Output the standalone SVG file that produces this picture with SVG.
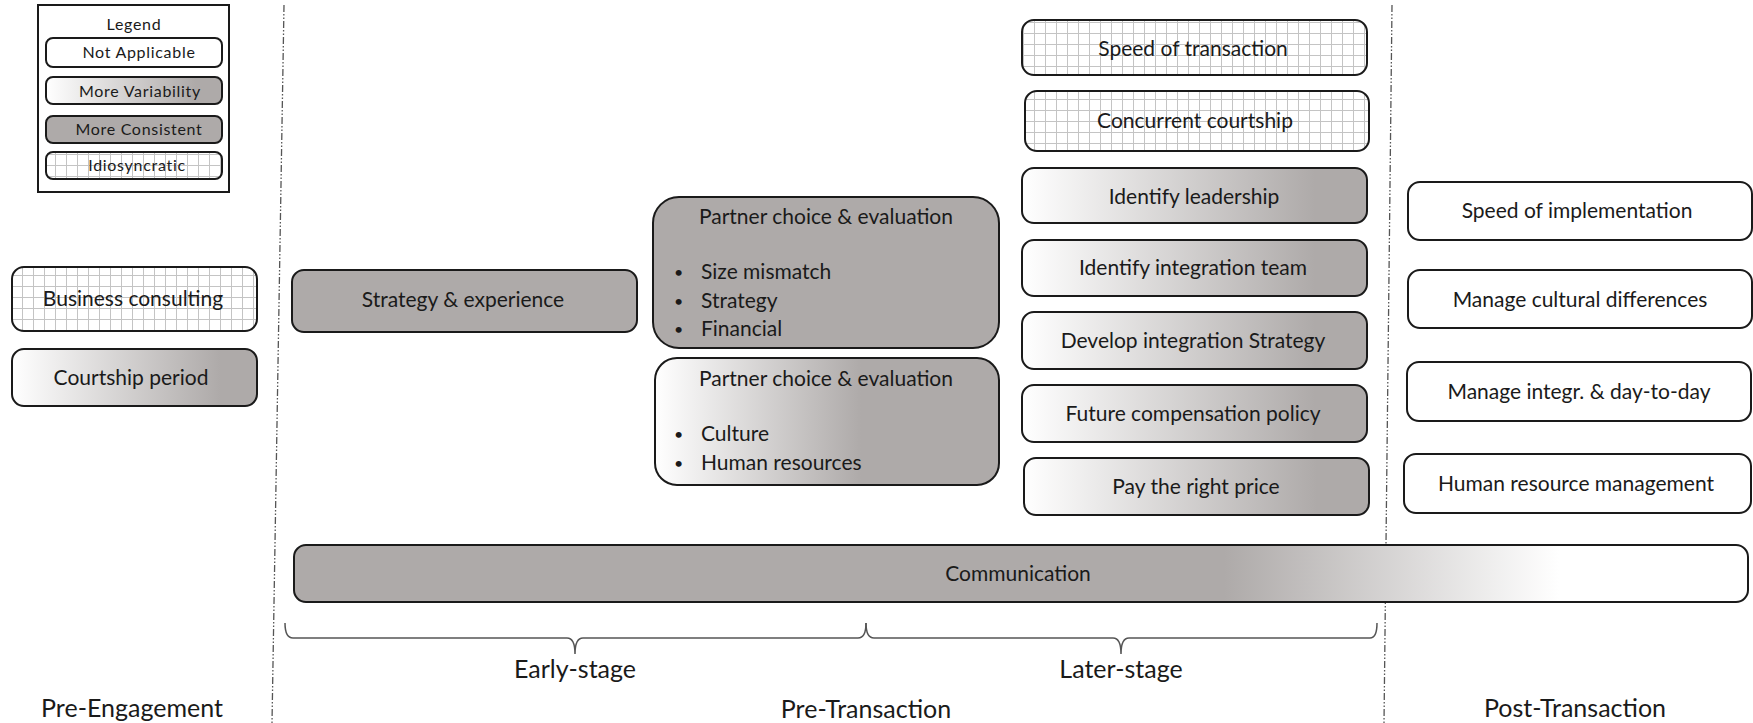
<svg xmlns="http://www.w3.org/2000/svg" width="1753" height="723" viewBox="0 0 1753 723">
  <style>
    text { font-family: Lato, "Open Sans", "Liberation Sans", sans-serif; fill: #1a1a1a; }
    .lbl { font-size: 21px; text-anchor: middle; dominant-baseline: central; }
    .lst { font-size: 21px; dominant-baseline: central; }
    .dot { font-size: 16px; dominant-baseline: central; }
    .leg { font-size: 16px; text-anchor: middle; dominant-baseline: central; letter-spacing: 0.7px; }
    .phase { font-size: 25px; text-anchor: middle; dominant-baseline: central; }
    .box { stroke: #1a1a1a; stroke-width: 2; }
    .na { fill: #ffffff; }
    .cons { fill: #aeaaa9; }
    .var { fill: url(#gVar); }
    .var2 { fill: url(#gVar2); }
    .idio { fill: url(#grid); }
    .divider { stroke: #555; stroke-width: 1.3; fill: none; stroke-dasharray: 7 2 1.5 2 1.5 2; }
    .brace { stroke: #555; stroke-width: 1.5; fill: none; }
  </style>
  <defs>
    <linearGradient id="gVar" x1="0" y1="0" x2="1" y2="0">
      <stop offset="0" stop-color="#ffffff"/>
      <stop offset="0.85" stop-color="#aeaaa9"/>
      <stop offset="1" stop-color="#aeaaa9"/>
    </linearGradient>
    <linearGradient id="gVar2" x1="0" y1="0" x2="1" y2="0">
      <stop offset="0" stop-color="#ffffff"/>
      <stop offset="0.6" stop-color="#aeaaa9"/>
      <stop offset="1" stop-color="#aeaaa9"/>
    </linearGradient>
    <linearGradient id="gComm" x1="0" y1="0" x2="1" y2="0">
      <stop offset="0" stop-color="#aeaaa9"/>
      <stop offset="0.64" stop-color="#aeaaa9"/>
      <stop offset="0.87" stop-color="#ffffff"/>
      <stop offset="1" stop-color="#ffffff"/>
    </linearGradient>
    <pattern id="grid" width="11" height="11" patternUnits="userSpaceOnUse">
      <rect width="11" height="11" fill="#ffffff"/>
      <path d="M0 0.5H11M0.5 0V11" stroke="#c4c4c4" stroke-width="1"/>
    </pattern>
  </defs>

  <!-- phase dividers -->
  <g id="dividers">
    <line class="divider" x1="284" y1="5" x2="272" y2="723"/>
    <line class="divider" x1="1392" y1="5" x2="1384" y2="723"/>
  </g>

  <!-- legend -->
  <g id="legend">
    <rect x="38" y="5" width="191" height="187" fill="#fff" stroke="#1a1a1a" stroke-width="2"/>
    <text class="leg" x="134" y="23">Legend</text>
    <rect class="box na" x="46" y="38" width="176" height="29" rx="7"/>
    <text class="leg" x="139" y="51">Not Applicable</text>
    <rect class="box var" x="46" y="77" width="176" height="27" rx="7"/>
    <text class="leg" x="140" y="90">More Variability</text>
    <rect class="box cons" x="46" y="116" width="176" height="27" rx="7"/>
    <text class="leg" x="139" y="128">More Consistent</text>
    <rect class="box idio" x="46" y="152" width="176" height="27" rx="7"/>
    <text class="leg" x="137" y="164">Idiosyncratic</text>
  </g>

  <!-- pre-engagement -->
  <g id="business-consulting">
    <rect class="box idio" x="12" y="267" width="245" height="64" rx="12"/>
    <text class="lbl" x="133" y="297">Business consulting</text>
  </g>
  <g id="courtship-period">
    <rect class="box var" x="12" y="349" width="245" height="57" rx="12"/>
    <text class="lbl" x="131" y="376">Courtship period</text>
  </g>

  <!-- pre-transaction, early stage -->
  <g id="strategy-experience">
    <rect class="box cons" x="292" y="270" width="345" height="62" rx="12"/>
    <text class="lbl" x="463" y="298">Strategy &amp; experience</text>
  </g>
  <g id="partner-choice-1">
    <rect class="box cons" x="653" y="197" width="346" height="151" rx="26"/>
    <text class="lbl" x="826" y="215">Partner choice &amp; evaluation</text>
    <text class="dot" x="674" y="271">•</text>
    <text class="lst" x="701" y="270">Size mismatch</text>
    <text class="dot" x="674" y="300">•</text>
    <text class="lst" x="701" y="299">Strategy</text>
    <text class="dot" x="674" y="328">•</text>
    <text class="lst" x="701" y="327">Financial</text>
  </g>
  <g id="partner-choice-2">
    <rect class="box var2" x="655" y="358" width="344" height="127" rx="22"/>
    <text class="lbl" x="826" y="377">Partner choice &amp; evaluation</text>
    <text class="dot" x="674" y="433">•</text>
    <text class="lst" x="701" y="432">Culture</text>
    <text class="dot" x="674" y="462">•</text>
    <text class="lst" x="701" y="461">Human resources</text>
  </g>

  <!-- pre-transaction, later stage -->
  <g id="speed-of-transaction">
    <rect class="box idio" x="1022" y="20" width="345" height="55" rx="12"/>
    <text class="lbl" x="1193" y="47">Speed of transaction</text>
  </g>
  <g id="concurrent-courtship">
    <rect class="box idio" x="1025" y="91" width="344" height="60" rx="12"/>
    <text class="lbl" x="1195" y="119">Concurrent courtship</text>
  </g>
  <g id="identify-leadership">
    <rect class="box var" x="1022" y="168" width="345" height="55" rx="12"/>
    <text class="lbl" x="1194" y="195">Identify leadership</text>
  </g>
  <g id="identify-integration-team">
    <rect class="box var" x="1022" y="240" width="345" height="56" rx="12"/>
    <text class="lbl" x="1193" y="266">Identify integration team</text>
  </g>
  <g id="develop-integration-strategy">
    <rect class="box var" x="1022" y="312" width="345" height="57" rx="12"/>
    <text class="lbl" x="1193" y="339">Develop integration Strategy</text>
  </g>
  <g id="future-compensation-policy">
    <rect class="box var" x="1022" y="385" width="345" height="57" rx="12"/>
    <text class="lbl" x="1193" y="412">Future compensation policy</text>
  </g>
  <g id="pay-the-right-price">
    <rect class="box var" x="1024" y="458" width="345" height="57" rx="12"/>
    <text class="lbl" x="1196" y="485">Pay the right price</text>
  </g>

  <!-- post-transaction -->
  <g id="speed-of-implementation">
    <rect class="box na" x="1408" y="182" width="344" height="58" rx="12"/>
    <text class="lbl" x="1577" y="209">Speed of implementation</text>
  </g>
  <g id="manage-cultural-differences">
    <rect class="box na" x="1408" y="270" width="344" height="58" rx="12"/>
    <text class="lbl" x="1580" y="298">Manage cultural differences</text>
  </g>
  <g id="manage-integration">
    <rect class="box na" x="1407" y="362" width="344" height="59" rx="12"/>
    <text class="lbl" x="1579" y="390">Manage integr. &amp; day-to-day</text>
  </g>
  <g id="human-resource-management">
    <rect class="box na" x="1404" y="454" width="347" height="59" rx="12"/>
    <text class="lbl" x="1576" y="482">Human resource management</text>
  </g>

  <!-- spans all phases -->
  <g id="communication">
    <rect class="box" fill="url(#gComm)" x="294" y="545" width="1454" height="57" rx="12"/>
    <text class="lbl" x="1018" y="572">Communication</text>
  </g>

  <!-- stage braces -->
  <g id="braces">
    <path class="brace" d="M285 623 Q285 638 293 638 H567 Q575 638 575 654 Q575 638 583 638 H858 Q866 638 866 623"/>
    <path class="brace" d="M866 623 Q866 638 874 638 H1113 Q1121 638 1121 654 Q1121 638 1129 638 H1370 Q1377 638 1377 623"/>
  </g>

  <!-- stage and phase labels -->
  <g id="labels">
    <text class="phase" x="575" y="668">Early-stage</text>
    <text class="phase" x="1121" y="668">Later-stage</text>
    <text class="phase" x="132" y="707">Pre-Engagement</text>
    <text class="phase" x="866" y="708">Pre-Transaction</text>
    <text class="phase" x="1575" y="707">Post-Transaction</text>
  </g>
</svg>
